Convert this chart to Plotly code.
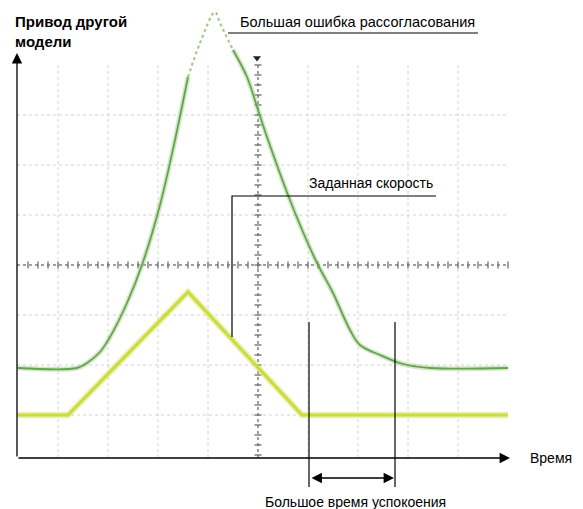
import numpy as np
import plotly.graph_objects as go

# ---- data (units: oscilloscope divisions, origin at screen centre) ----
green_x = [-4.80, -3.62, -3.42, -3.16, -2.96, -2.62, -2.30, -1.96, -1.66, -1.40,
           -1.16, -0.86, -0.76, -0.50, -0.22, 0.00, 0.18, 0.60, 0.90, 1.18,
           1.50, 1.84, 2.04, 2.44, 2.90, 3.44, 5.00]
green_y = [-2.06, -2.06, -1.96, -1.74, -1.44, -0.76, 0.06, 1.20, 2.50, 3.76,
           4.44, 5.06, 4.84, 4.30, 3.76, 3.10, 2.56, 1.40, 0.66, 0.04,
           -0.56, -1.30, -1.60, -1.80, -1.98, -2.06, -2.06]
yellow_x = [-4.80, -3.80, -1.40, 0.88, 5.00]
yellow_y = [-3.00, -3.00, -0.54, -3.00, -3.00]

grid_x = [-4, -3, -2, -1, 1, 2, 3, 4]
grid_y = [-3, -2, -1, 1, 2, 3]

label_title = "Привод другой<br>модели"
label_time = "Время"
label_error = "Большая ошибка рассогласования"
label_speed = "Заданная скорость"
label_settle = "Большое время успокоения"

# ---- geometry of the drawing ----
# page body has an 8px margin, so the figure is drawn 8px in from the corner
X0, X1 = (8 - 258) / 50, (583 - 258) / 50
Y0, Y1 = (265 - 509) / 50, (265 - 8) / 50
AX_X = -4.82          # y-axis position
AX_Y = -3.86          # x-axis position
GRID_TOP = 4.0
GRID_LEFT, GRID_RIGHT = -4.82, 5.0

FONT = "Liberation Sans, Arial, sans-serif"

fig = go.Figure()
shapes = []

# grid
for gx in grid_x:
    shapes.append(dict(type="line", x0=gx, x1=gx, y0=AX_Y, y1=GRID_TOP,
                       line=dict(color="#d2d2d2", width=1, dash="dot"), layer="below"))
for gy in grid_y:
    shapes.append(dict(type="line", x0=GRID_LEFT, x1=GRID_RIGHT, y0=gy, y1=gy,
                       line=dict(color="#d2d2d2", width=1, dash="dot"), layer="below"))
# centre cross
shapes.append(dict(type="line", x0=0, x1=0, y0=AX_Y, y1=GRID_TOP,
                   line=dict(color="#808080", width=1.5, dash="dot"), layer="below"))
shapes.append(dict(type="line", x0=GRID_LEFT, x1=GRID_RIGHT, y0=0, y1=0,
                   line=dict(color="#808080", width=1.5, dash="dot"), layer="below"))

# centre-line minor ticks
tick_v = np.arange(-3.8, 4.01, 0.2)
tick_h = np.arange(-4.6, 5.01, 0.2)
fig.add_trace(go.Scatter(x=np.zeros_like(tick_v), y=tick_v, mode="markers",
                         marker=dict(symbol="line-ew", size=5, line=dict(color="#6e6e6e", width=1.3)),
                         hoverinfo="skip"))
fig.add_trace(go.Scatter(x=tick_h, y=np.zeros_like(tick_h), mode="markers",
                         marker=dict(symbol="line-ns", size=5, line=dict(color="#6e6e6e", width=1.3)),
                         hoverinfo="skip"))

# yellow (set speed) - halo + core
fig.add_trace(go.Scatter(x=yellow_x, y=yellow_y, mode="lines",
                         line=dict(color="rgba(218,230,120,0.55)", width=6.5), hoverinfo="skip"))
fig.add_trace(go.Scatter(x=yellow_x, y=yellow_y, mode="lines",
                         line=dict(color="#cbdb3a", width=3), hoverinfo="skip"))

# green (drive response): solid parts and faint dotted top
i_a, i_b = 9, 13
gx1, gy1 = green_x[:i_a + 1], green_y[:i_a + 1]
gx2, gy2 = green_x[i_a:i_b + 1], green_y[i_a:i_b + 1]
gx3, gy3 = green_x[i_b:], green_y[i_b:]
for xs, ys in ((gx1, gy1), (gx3, gy3)):
    fig.add_trace(go.Scatter(x=xs, y=ys, mode="lines", line_shape="spline",
                             line=dict(color="rgba(160,205,130,0.45)", width=5), hoverinfo="skip"))
    fig.add_trace(go.Scatter(x=xs, y=ys, mode="lines", line_shape="spline",
                             line=dict(color="#65a352", width=1.8), hoverinfo="skip"))
fig.add_trace(go.Scatter(x=gx2, y=gy2, mode="lines", line_shape="spline",
                         line=dict(color="#a3cc8c", width=2.2, dash="dot"), hoverinfo="skip"))

# trigger marker
fig.add_trace(go.Scatter(x=[-0.02], y=[4.14], mode="markers",
                         marker=dict(symbol="triangle-down", size=7, color="#222"),
                         hoverinfo="skip"))

# annotation leader lines
shapes.append(dict(type="line", x0=-0.60, x1=4.40, y0=4.64, y1=4.64,
                   line=dict(color="black", width=1.2)))
shapes.append(dict(type="path", path="M -0.52,-1.44 L -0.52,1.38 L 3.56,1.38",
                   line=dict(color="black", width=1.2)))
for vx in (1.02, 2.74):
    shapes.append(dict(type="line", x0=vx, x1=vx, y0=-4.44, y1=-1.14,
                       line=dict(color="black", width=1.2)))

annotations = [
    # axes with arrowheads
    dict(x=AX_X, y=4.24, ax=AX_X, ay=AX_Y, xref="x", yref="y", axref="x", ayref="y",
         text="", showarrow=True, arrowhead=2, arrowsize=1.6, arrowwidth=1.3, arrowcolor="black"),
    dict(x=5.04, y=AX_Y, ax=AX_X, ay=AX_Y, xref="x", yref="y", axref="x", ayref="y",
         text="", showarrow=True, arrowhead=2, arrowsize=1.6, arrowwidth=1.3, arrowcolor="black"),
    # double arrow
    dict(x=2.72, y=-4.26, ax=1.04, ay=-4.26, xref="x", yref="y", axref="x", ayref="y",
         text="", showarrow=True, arrowhead=2, startarrowhead=2, arrowside="end+start",
         arrowsize=1.6, startarrowsize=1.6, arrowwidth=1.3, arrowcolor="black"),
    # texts
    dict(x=-4.90, y=5.08, xref="x", yref="y", text="<b>" + label_title + "</b>",
         showarrow=False, xanchor="left", yanchor="top", align="left",
         font=dict(family=FONT, size=15, color="black")),
    dict(x=5.40, y=AX_Y, xref="x", yref="y", text=label_time, showarrow=False,
         xanchor="left", yanchor="middle", font=dict(family=FONT, size=14, color="black")),
    dict(x=4.38, y=4.86, xref="x", yref="y", text=label_error, showarrow=False,
         xanchor="right", yanchor="middle", font=dict(family=FONT, size=14.5, color="black")),
    dict(x=3.54, y=1.64, xref="x", yref="y", text=label_speed, showarrow=False,
         xanchor="right", yanchor="middle", font=dict(family=FONT, size=14, color="black")),
    dict(x=1.94, y=-4.74, xref="x", yref="y", text=label_settle, showarrow=False,
         xanchor="center", yanchor="middle", font=dict(family=FONT, size=14, color="black")),
]

fig.update_layout(
    width=575, height=501,
    margin=dict(l=0, r=0, t=0, b=0),
    paper_bgcolor="white", plot_bgcolor="white",
    showlegend=False,
    xaxis=dict(range=[X0, X1], visible=False, fixedrange=True),
    yaxis=dict(range=[Y0, Y1], visible=False, fixedrange=True),
    shapes=shapes,
    annotations=annotations,
)

fig.write_html("out.html")
